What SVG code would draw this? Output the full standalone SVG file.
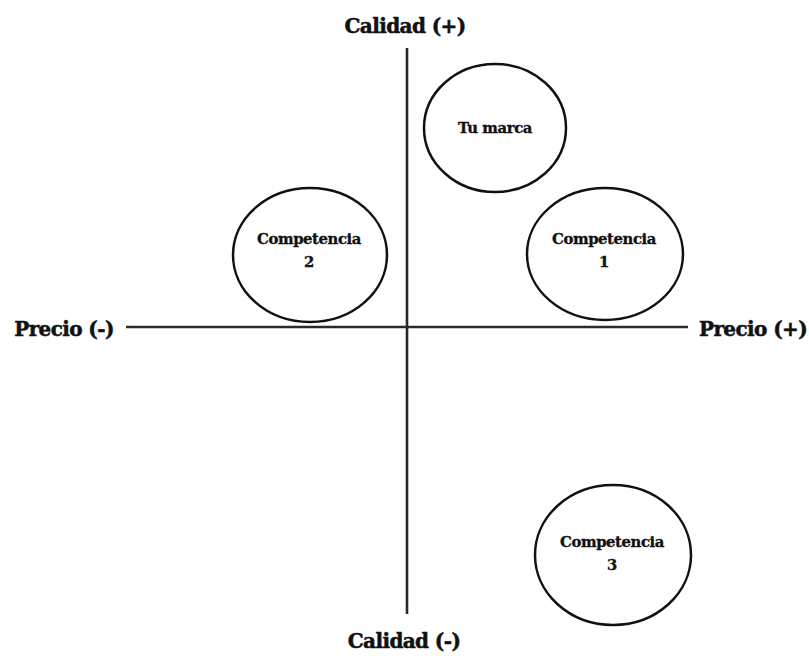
<svg xmlns="http://www.w3.org/2000/svg" width="809" height="656" viewBox="0 0 809 656">
<style>
.axis{stroke:#2a2a2a;stroke-width:2.6;fill:none}
.node{fill:#fff;stroke:#111;stroke-width:2.5}
.lbl{font-family:"DejaVu Serif","Liberation Serif",serif;font-weight:bold;fill:#111;stroke:#111;stroke-width:0.5;text-anchor:middle}
.ax{font-size:20px;letter-spacing:-0.6px}
.nl{font-size:14.8px;letter-spacing:-0.4px;stroke-width:0.35}
</style>
<rect width="809" height="656" fill="#fff"/>
<g id="connectors">
<line class="axis" x1="407" y1="48" x2="407" y2="614"/>
<line class="axis" x1="126" y1="327" x2="688" y2="327"/>
</g>
<g id="axis-labels">
<text class="lbl ax" x="405" y="33">Calidad (+)</text>
<text class="lbl ax" x="404" y="648">Calidad (-)</text>
<text class="lbl ax" x="64" y="336">Precio (-)</text>
<text class="lbl ax" x="753" y="336">Precio (+)</text>
</g>
<g id="tu-marca">
<ellipse class="node" cx="495" cy="128" rx="71" ry="64"/>
<text class="lbl nl" x="495" y="133">Tu marca</text>
</g>
<g id="competencia-2">
<ellipse class="node" cx="310" cy="255" rx="77" ry="67"/>
<text class="lbl nl" x="309" y="244">Competencia</text>
<text class="lbl nl" x="309" y="267">2</text>
</g>
<g id="competencia-1">
<ellipse class="node" cx="605" cy="254" rx="78" ry="66"/>
<text class="lbl nl" x="604" y="244">Competencia</text>
<text class="lbl nl" x="604" y="267">1</text>
</g>
<g id="competencia-3">
<ellipse class="node" cx="613" cy="555" rx="78" ry="70"/>
<text class="lbl nl" x="612" y="547">Competencia</text>
<text class="lbl nl" x="612" y="570">3</text>
</g>
</svg>
